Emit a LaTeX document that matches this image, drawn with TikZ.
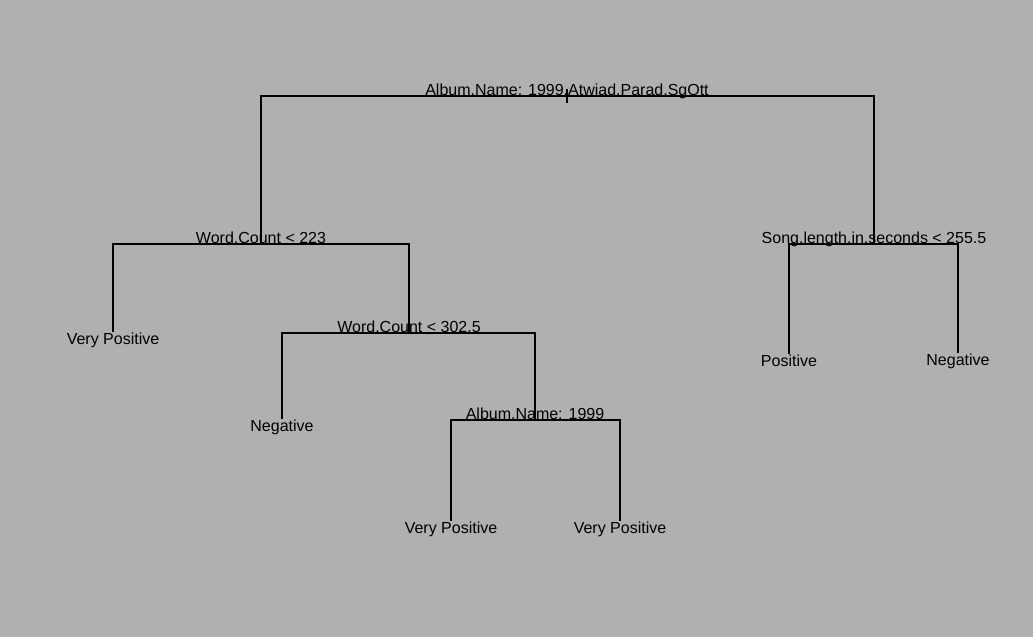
\documentclass[tikz,border=0pt]{standalone}
\usepackage{fontspec}
\setmainfont{Liberation Sans}
\usepackage{xcolor}
\usepackage{tikz}
\usetikzlibrary{
	positioning,
	backgrounds
}
\definecolor{plotbg}{RGB}{176,176,176}

\begin{document}
\begin{tikzpicture}[x=0.5pt, y=-0.5pt, line width=0.55pt,
		split/.style={anchor=base, inner sep=0pt, yshift=0.4pt, font=\fontsize{8}{9.6}\selectfont},
		leaf/.style={anchor=base, inner sep=0pt, font=\fontsize{8}{9.6}\selectfont}]
		\fill[plotbg] (0,0) rectangle (1033,637);
		
		% 分裂点
		\coordinate (stub) at (567,89);
		\coordinate (root) at (567,96);
		\coordinate (wc1)  at (261,244);
		\coordinate (song) at (874,244);
		\coordinate (wc2)  at (409,333);
		\coordinate (alb)  at (535,420);
		
		\node[split] (lroot) at (root) {Album.Name: 1999,Atwiad,Parad,SgOtt};
		\node[split] (lwc1)  at (wc1)  {Word.Count < 223};
		\node[split] (lsong) at (song) {Song.length.in.seconds < 255.5};
		\node[split] (lwc2)  at (wc2)  {Word.Count < 302.5};
		\node[split] (lalb)  at (alb)  {Album.Name: 1999};
		
		% 叶子
		\node[leaf] (leaf1) at (113,344) {Very Positive};
		\node[leaf] (leaf2) at (282,431) {Negative};
		\node[leaf] (leaf3) at (451,533) {Very Positive};
		\node[leaf] (leaf4) at (620,533) {Very Positive};
		\node[leaf] (leaf5) at (789,366) {Positive};
		\node[leaf] (leaf6) at (958,365) {Negative};
		
		% 树枝
		\draw (stub) -- (root) -- ++(0,7);
		\draw (root) -| (wc1);
		\draw (root) -| (song);
		\draw (wc1) -| (leaf1.north);
		\draw (wc1) -| (wc2);
		\draw (wc2) -| (leaf2.north);
		\draw (wc2) -| (alb);
		\draw (alb) -| (leaf3.north);
		\draw (alb) -| (leaf4.north);
		\draw (song) -| (leaf5.north);
		\draw (song) -| (leaf6.north);
	\end{tikzpicture}
\end{document}
